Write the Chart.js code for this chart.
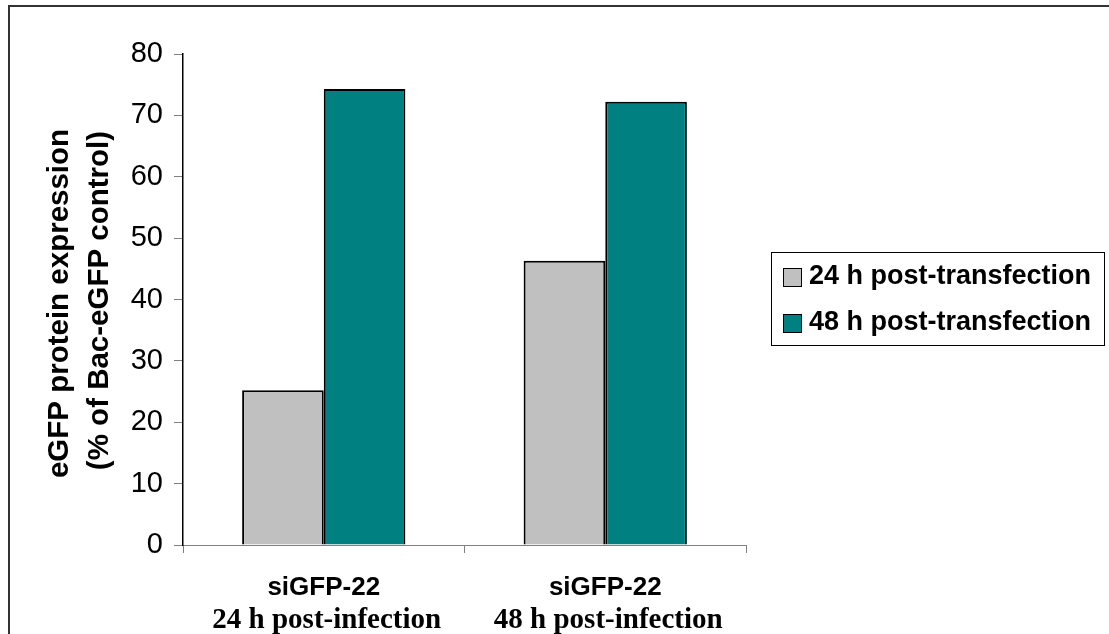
<!DOCTYPE html>
<html>
<head>
<meta charset="utf-8">
<script src="https://cdn.jsdelivr.net/npm/chart.js@4/dist/chart.umd.min.js"></script>
<style>
html,body{margin:0;padding:0;background:#fff;}
canvas{display:block;}
</style>
</head>
<body>
<canvas id="c" width="1109" height="634"></canvas>
<script>
const categoryLine1 = ['siGFP-22', 'siGFP-22'];
const categoryLine2 = ['24 h post-infection', '48 h post-infection'];
const seriesNames = ['24 h post-transfection', '48 h post-transfection'];
const values24h = [25.2, 46.3];
const values48h = [74.3, 72.2];
const yTitleLines = ['eGFP protein expression', '(% of Bac-eGFP control)'];
const yMin = 0, yMax = 80, yStep = 10;
const colors = ['#C0C0C0', '#008080'];

const overlay = {
  id: 'overlay',
  afterDraw(chart) {
    const ctx = chart.ctx;
    const area = chart.chartArea;
    const xs = chart.scales.x;
    ctx.save();
    // outer frame (top and left visible)
    ctx.strokeStyle = '#333';
    ctx.lineWidth = 2;
    ctx.beginPath();
    ctx.moveTo(9, 634);
    ctx.lineTo(9, 6);
    ctx.lineTo(1109, 6);
    ctx.stroke();

    // y title
    ctx.fillStyle = '#000';
    ctx.font = 'bold 29.5px "Liberation Sans", Arial, sans-serif';
    ctx.textAlign = 'center';
    ctx.textBaseline = 'alphabetic';
    const cy = (area.top + area.bottom) / 2 + 4;
    ctx.save();
    ctx.translate(68, cy);
    ctx.rotate(-Math.PI / 2);
    ctx.fillText(yTitleLines[0], 0, 0);
    ctx.restore();
    ctx.save();
    ctx.translate(108, cy - 3);
    ctx.rotate(-Math.PI / 2);
    ctx.fillText(yTitleLines[1], 0, 0);
    ctx.restore();

    // category labels
    chart.data.labels.forEach((lab, i) => {
      const x = xs.getPixelForTick(i);
      ctx.font = 'bold 26px "Liberation Sans", Arial, sans-serif';
      ctx.fillText(categoryLine1[i], x, 595);
      ctx.font = 'bold 29px "Liberation Serif", "Times New Roman", serif';
      ctx.fillText(categoryLine2[i], x + 3, 628);
    });

    // legend
    ctx.lineWidth = 1;
    ctx.strokeStyle = '#000';
    ctx.strokeRect(771.5, 252.5, 333, 93);
    ctx.textAlign = 'left';
    ctx.font = 'bold 27px "Liberation Sans", Arial, sans-serif';
    chart.data.datasets.forEach((ds, i) => {
      const y0 = 268 + i * 46;
      ctx.fillStyle = ds.backgroundColor;
      ctx.fillRect(783, y0, 18, 18);
      ctx.strokeRect(783.5, y0 + 0.5, 18, 18);
      ctx.fillStyle = '#000';
      ctx.fillText(ds.label, 809, y0 + 16);
    });
    ctx.restore();
  }
};

new Chart(document.getElementById('c'), {
  type: 'bar',
  data: {
    labels: categoryLine1.map((a, i) => [a, categoryLine2[i]]),
    datasets: [
      { label: seriesNames[0], data: values24h, backgroundColor: colors[0], borderColor: '#000', borderWidth: 2 },
      { label: seriesNames[1], data: values48h, backgroundColor: colors[1], borderColor: '#000', borderWidth: 2 }
    ]
  },
  options: {
    responsive: false,
    animation: false,
    devicePixelRatio: 1,
    categoryPercentage: 0.58,
    barPercentage: 1.0,
    layout: { padding: { left: 0, right: 363, top: 54, bottom: 0 } },
    plugins: { legend: { display: false }, tooltip: { enabled: false } },
    scales: {
      x: {
        grid: { offset: true, drawOnChartArea: false, tickLength: 8, color: '#808080' },
        border: { color: '#808080', width: 1 },
        ticks: { display: false },
        afterFit(s) { s.height = 89; }
      },
      y: {
        min: yMin, max: yMax,
        ticks: { stepSize: yStep, color: '#000', padding: 11,
          font: { family: '"Liberation Sans", Arial, sans-serif', size: 29 } },
        grid: { drawOnChartArea: false, tickLength: 9, color: '#808080' },
        border: { color: '#000', width: 1.5 },
        afterFit(s) { s.width = 183; }
      }
    }
  },
  plugins: [overlay]
});
</script>
</body>
</html>
